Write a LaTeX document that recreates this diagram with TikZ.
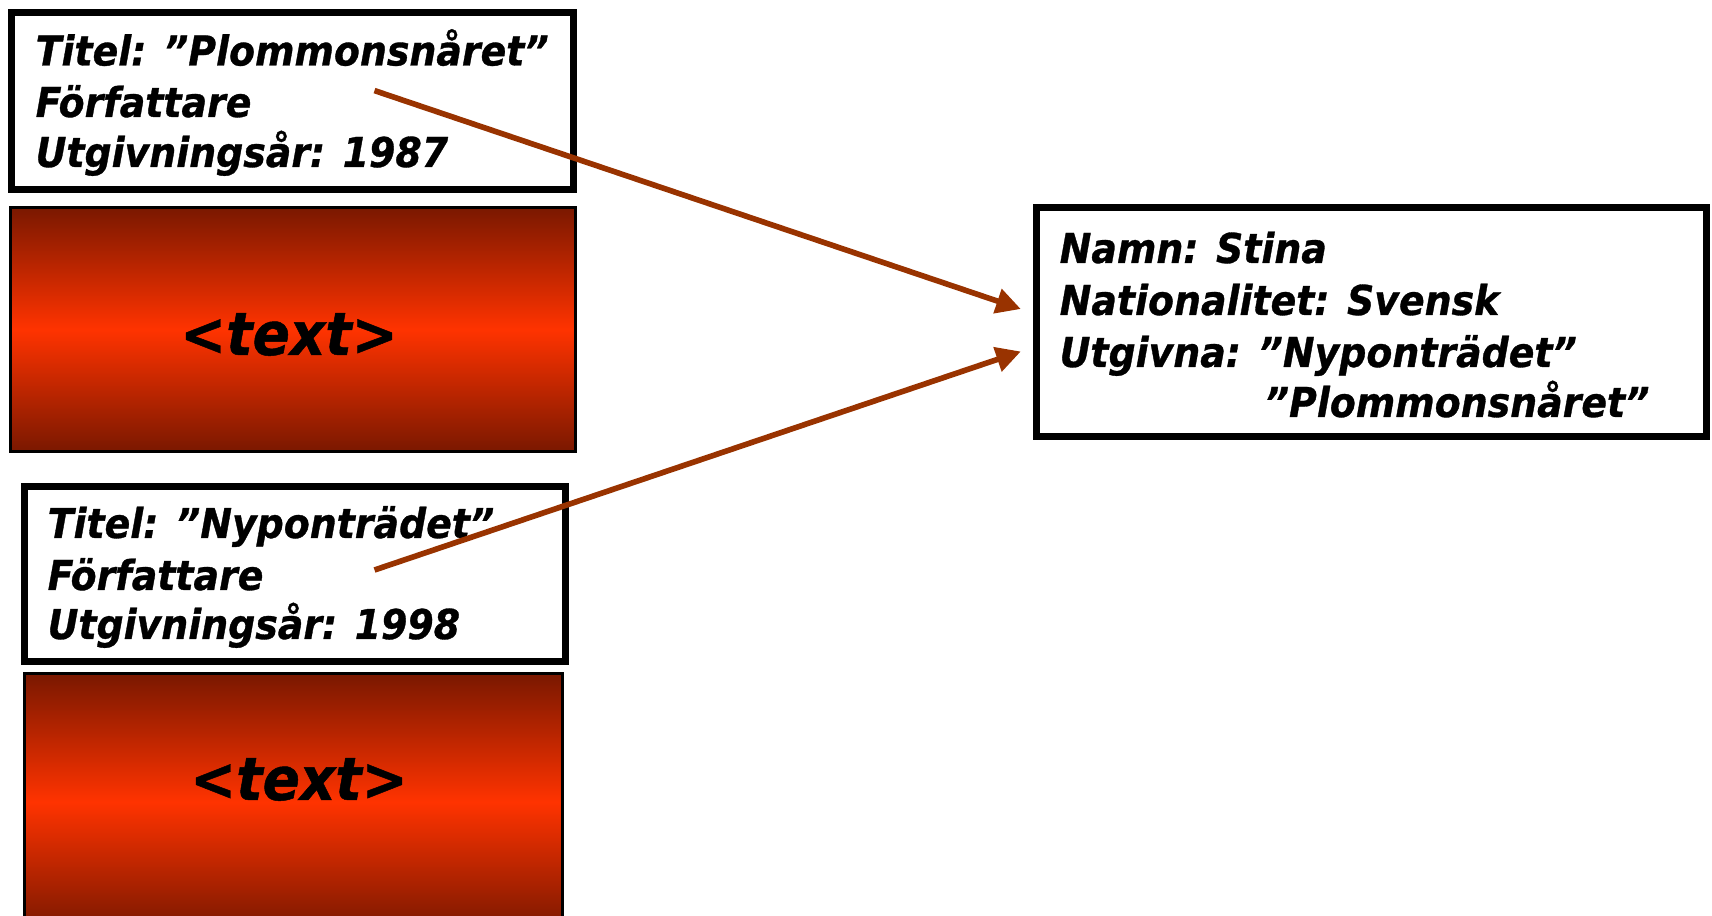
\documentclass[tikz,border=0pt]{standalone}
\usepackage{fontspec}
\newfontfamily\bokfont{DejaVu Sans Bold Oblique}[FakeStretch=0.92, FakeBold=0.8]
\usetikzlibrary{arrows.meta}
\definecolor{pilbrun}{HTML}{993300}
\definecolor{morkrod}{HTML}{7A1800}
\definecolor{ljusrod}{HTML}{FF3300}
\tikzset{%
    ruta/.style={draw, line width=2pt, fill=white, inner sep=0pt, anchor=north west},
    grad/.style={draw, line width=0.8pt, top color=morkrod, bottom color=morkrod, middle color=ljusrod, inner sep=0pt, anchor=north west},
    rad/.style={anchor=base west, inner sep=0pt, font=\bokfont\fontsize{11.7}{14}\selectfont},
    stor/.style={anchor=base, inner sep=0pt, font=\bokfont\fontsize{17}{20}\selectfont},
    pil/.style={line width=1.6pt, draw=pilbrun, -{Triangle[length=7pt, width=7pt]}},
}

\begin{document}
\begin{tikzpicture}[x=0.01cm, y=-0.01cm]
    \useasboundingbox (0,0) rectangle (1712,916);
    % rutor
    \node (bok1) [ruta, minimum width=5.62cm, minimum height=1.77cm] at (7.6,8.7) {};
    \node (grad1) [grad, minimum width=5.65cm, minimum height=2.44cm] at (8.7,206) {};
    \node (bok2) [ruta, minimum width=5.41cm, minimum height=1.755cm] at (20.7,482.6) {};
    \node (grad2) [grad, minimum width=5.375cm, minimum height=2.56cm] at (22.9,672.5) {};
    \node (fors) [ruta, minimum width=6.695cm, minimum height=2.29cm] at (1033,204) {};
    % texter
    \foreach \y/\txt [count=\i] in {65.5/Titel: ”Plommonsnåret”, 117/Författare, 167/Utgivningsår: 1987}
        \node (a\i) [rad] at (35,\y) {\txt};
    \foreach \y/\txt [count=\i] in {538/Titel: ”Nyponträdet”, 590/Författare, 639/Utgivningsår: 1998}
        \node (b\i) [rad] at (47,\y) {\txt};
    \foreach \y/\txt [count=\i] in {263/Namn: Stina, 315/Nationalitet: Svensk, 367/Utgivna: ”Nyponträdet”}
        \node (c\i) [rad] at (1059,\y) {\txt};
    \node (c4) [rad] at (1264,417) {”Plommonsnåret”};
    \node (g1) [stor] at (289,355) {<text>};
    \node (g2) [stor] at (299,800) {<text>};
    % pilar
    \coordinate (s1) at (374.5,90.6);
    \coordinate (e1) at (1020.8,309);
    \coordinate (s2) at (374.5,570);
    \coordinate (e2) at (1020.8,351.5);
    \draw [pil] (s1) -- (e1);
    \draw [pil] (s2) -- (e2);
\end{tikzpicture}
\end{document}
